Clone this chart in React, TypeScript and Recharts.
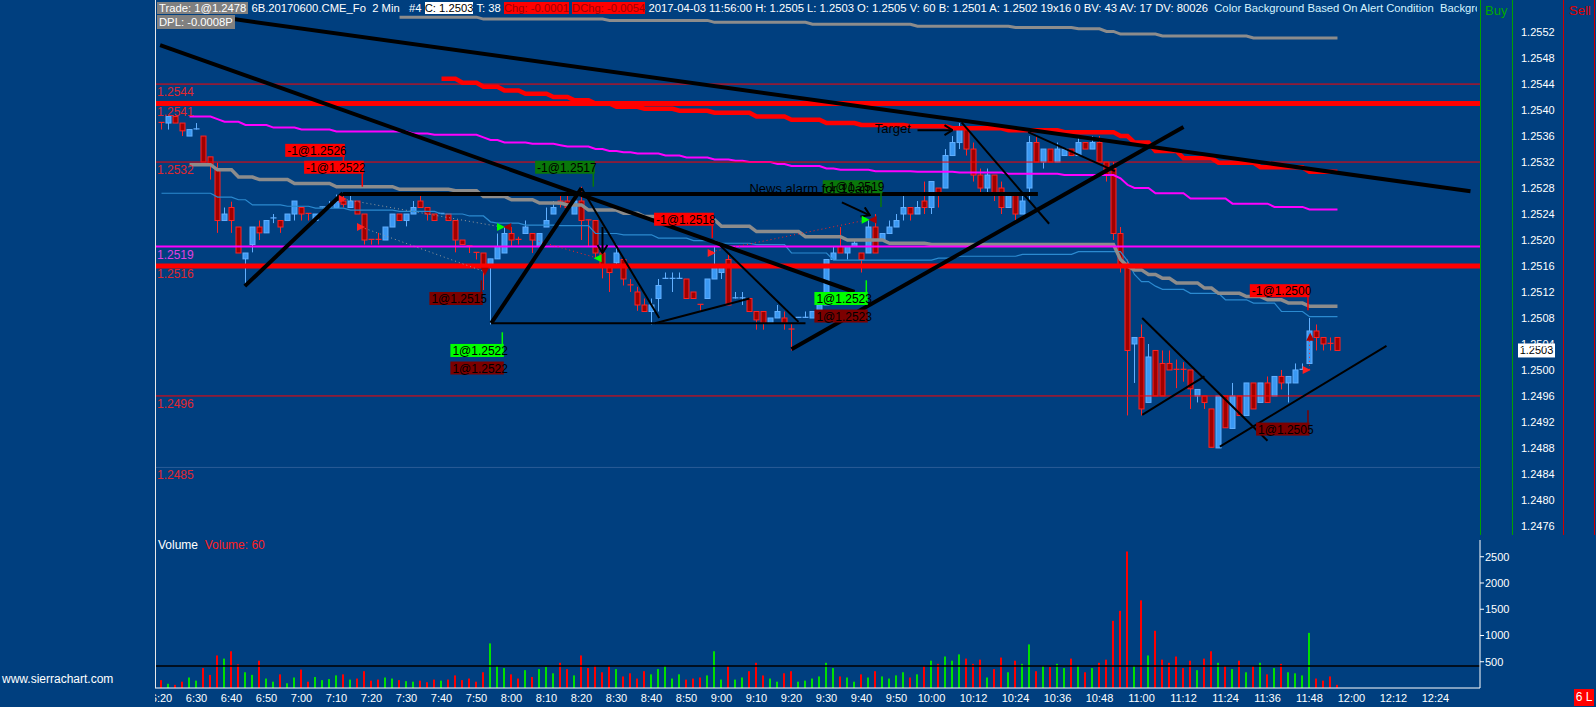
import React from "react";
import {
  Bar,
  Cell,
  ComposedChart,
  Line,
  ReferenceDot,
  ReferenceLine,
  XAxis,
  YAxis,
} from "recharts";

const BG = "#003f7f";
const FONT = '"Liberation Sans", Arial, sans-serif';

// 2 minute bars of 6B (British pound future), bar 0 = 6:20, bar 168 = 11:56
const opens = [
  1.25381, 1.2538, 1.2539, 1.2538, 1.2536, 1.2537, 1.2536, 1.25328, 1.2531, 1.2523,
  1.2525, 1.2522, 1.25171, 1.25193, 1.2522, 1.25211, 1.25233, 1.2523, 1.2523, 1.2524,
  1.2525, 1.25241, 1.2523, 1.2525, 1.2525, 1.2525, 1.2526, 1.2525, 1.2526, 1.2524,
  1.25201, 1.25201, 1.252, 1.2522, 1.2524, 1.2523, 1.2524, 1.2526, 1.2525, 1.2524,
  1.2524, 1.2524, 1.2523, 1.252, 1.25191, 1.25181, 1.2518, 1.25162, 1.25171, 1.2518,
  1.2521, 1.25201, 1.2521, 1.2521, 1.2519, 1.2522, 1.2524, 1.2526, 1.2526, 1.2524,
  1.2526, 1.25231, 1.2523, 1.2518, 1.2516, 1.25165, 1.2517, 1.25131, 1.2512, 1.251,
  1.2509, 1.2511, 1.2514, 1.2514, 1.2514, 1.2514, 1.2512, 1.25101, 1.2511, 1.2514,
  1.2515, 1.2517, 1.2511, 1.2511, 1.2511, 1.2509, 1.2509, 1.25072, 1.2508, 1.2508,
  1.25063, 1.2508, 1.2508, 1.2508, 1.2509, 1.251, 1.2517, 1.2519, 1.2518, 1.2519,
  1.2518, 1.2518, 1.2522, 1.252, 1.2521, 1.2522, 1.2524, 1.2525, 1.2524, 1.2526,
  1.2525, 1.2528, 1.2528, 1.2533, 1.2535, 1.2537, 1.2534, 1.253, 1.2528, 1.253,
  1.2528, 1.2525, 1.2527, 1.2524, 1.2528, 1.2535, 1.2532, 1.2534, 1.2532, 1.2533,
  1.2534, 1.2533, 1.2535, 1.2534, 1.2535, 1.2532, 1.2531, 1.2521, 1.2516, 1.2504,
  1.2505, 1.2495, 1.2503, 1.2501, 1.2501, 1.25001, 1.25001, 1.25, 1.2496, 1.2496,
  1.2494, 1.2488, 1.2496, 1.2491, 1.2496, 1.2493, 1.2498, 1.2495, 1.2498, 1.2496,
  1.2499, 1.2498, 1.2498, 1.25, 1.2501, 1.2506, 1.2505, 1.25041, 1.2505,
];
const highs = [
  1.25381, 1.2539, 1.2539, 1.2538, 1.2537, 1.2538, 1.2536, 1.25328, 1.25319, 1.2525,
  1.25259, 1.2522, 1.2518, 1.2522, 1.2523, 1.2523, 1.2524, 1.2523, 1.2524, 1.2526,
  1.2525, 1.25241, 1.2524, 1.25251, 1.2526, 1.2527, 1.25268, 1.25268, 1.2526, 1.2524,
  1.25201, 1.25211, 1.2522, 1.2524, 1.2524, 1.2524, 1.2526, 1.25268, 1.2525, 1.2524,
  1.25241, 1.2524, 1.2523, 1.252, 1.25191, 1.25181, 1.2518, 1.25171, 1.2521, 1.2522,
  1.2522, 1.25205, 1.2523, 1.2521, 1.2521, 1.2525, 1.2526, 1.25268, 1.2527, 1.2526,
  1.25282, 1.25231, 1.2523, 1.2522, 1.2516, 1.25193, 1.2517, 1.2514, 1.25128, 1.2511,
  1.2511, 1.2514, 1.2515, 1.2515, 1.2515, 1.2514, 1.2512, 1.25101, 1.2514, 1.2519,
  1.2516, 1.2518, 1.2512, 1.2512, 1.2511, 1.2509, 1.2509, 1.2508, 1.251, 1.2509,
  1.25072, 1.25081, 1.2509, 1.2509, 1.251, 1.2517, 1.2519, 1.2522, 1.2519, 1.252,
  1.2518, 1.2523, 1.2524, 1.2521, 1.2523, 1.2524, 1.2527, 1.2525, 1.2526, 1.2529,
  1.2529, 1.2528, 1.2534, 1.2536, 1.2538, 1.2537, 1.2535, 1.2531, 1.2531, 1.253,
  1.2529, 1.2527, 1.2527, 1.2527, 1.2536, 1.2536, 1.2534, 1.2534, 1.2535, 1.2534,
  1.2534, 1.2536, 1.2535, 1.2536, 1.2536, 1.2532, 1.2532, 1.2522, 1.2517, 1.2505,
  1.2507, 1.2504, 1.2503, 1.2503, 1.2503, 1.25016, 1.25012, 1.25, 1.2497, 1.2496,
  1.2494, 1.2496, 1.2496, 1.2498, 1.2496, 1.2498, 1.2498, 1.2498, 1.2499, 1.2499,
  1.25, 1.2499, 1.2501, 1.2501, 1.2508, 1.2507, 1.2505, 1.2505, 1.2505,
];
const lows = [
  1.2537, 1.2537, 1.2538, 1.2536, 1.2536, 1.2537, 1.2532, 1.25293, 1.25211, 1.2523,
  1.25211, 1.2518, 1.2513, 1.25181, 1.252, 1.25211, 1.25226, 1.25211, 1.2523, 1.2523,
  1.2523, 1.2523, 1.2523, 1.2525, 1.2525, 1.2525, 1.2525, 1.2525, 1.2524, 1.25193,
  1.25193, 1.25193, 1.252, 1.2522, 1.2523, 1.25221, 1.2524, 1.2525, 1.2523, 1.2523,
  1.2524, 1.2523, 1.25181, 1.25193, 1.2518, 1.2517, 1.25123, 1.2507, 1.25171, 1.2518,
  1.2519, 1.25193, 1.2521, 1.2518, 1.2519, 1.2522, 1.2524, 1.2525, 1.2525, 1.2524,
  1.252, 1.2519, 1.25172, 1.25141, 1.2512, 1.25162, 1.2513, 1.2512, 1.25091, 1.2509,
  1.2507, 1.2509, 1.2514, 1.2512, 1.2514, 1.2511, 1.2511, 1.2509, 1.2511, 1.2514,
  1.2514, 1.251, 1.2511, 1.251, 1.2509, 1.25062, 1.25062, 1.25072, 1.2508, 1.25062,
  1.2503, 1.2508, 1.2508, 1.2508, 1.2509, 1.251, 1.2517, 1.2518, 1.2517, 1.2519,
  1.2515, 1.2518, 1.2518, 1.252, 1.2521, 1.2522, 1.2523, 1.2523, 1.2524, 1.2524,
  1.2524, 1.2525, 1.2528, 1.2533, 1.2534, 1.2533, 1.2529, 1.2527, 1.2527, 1.2526,
  1.2524, 1.2525, 1.2523, 1.2524, 1.2526, 1.2532, 1.2531, 1.2532, 1.2532, 1.2533,
  1.2533, 1.2533, 1.2534, 1.2534, 1.2532, 1.2529, 1.252, 1.2515, 1.2493, 1.2498,
  1.2493, 1.2495, 1.2496, 1.2496, 1.25, 1.24972, 1.24982, 1.2494, 1.2495, 1.2494,
  1.24881, 1.2488, 1.24911, 1.2491, 1.2493, 1.2493, 1.2494, 1.2495, 1.2495, 1.2496,
  1.2497, 1.2495, 1.2498, 1.25, 1.2501, 1.2503, 1.2503, 1.2503, 1.2503,
];
const closes = [
  1.2538, 1.2539, 1.2538, 1.25368, 1.2537, 1.25371, 1.2532, 1.25315, 1.2523, 1.2524,
  1.2523, 1.2518, 1.2518, 1.2522, 1.25211, 1.2523, 1.25234, 1.2522, 1.2524, 1.2526,
  1.2524, 1.2524, 1.2524, 1.25251, 1.25251, 1.25259, 1.25255, 1.2526, 1.2524, 1.252,
  1.252, 1.252, 1.2522, 1.2524, 1.2523, 1.2524, 1.2525, 1.2525, 1.2524, 1.2523,
  1.25241, 1.2523, 1.252, 1.25193, 1.2519, 1.2518, 1.25162, 1.25171, 1.2519, 1.2521,
  1.252, 1.252, 1.2522, 1.252, 1.2521, 1.2523, 1.2525, 1.25255, 1.2525, 1.2526,
  1.2523, 1.2523, 1.2518, 1.25162, 1.2515, 1.2518, 1.2514, 1.2513, 1.251, 1.2509,
  1.251, 1.2513, 1.25141, 1.25141, 1.25141, 1.2511, 1.2511, 1.251, 1.2514, 1.2516,
  1.2516, 1.251, 1.25111, 1.25111, 1.2509, 1.25077, 1.25072, 1.2508, 1.2509, 1.25072,
  1.25062, 1.25081, 1.25081, 1.2509, 1.251, 1.2517, 1.2518, 1.2518, 1.2519, 1.25195,
  1.2517, 1.2522, 1.2518, 1.2521, 1.2522, 1.2523, 1.2525, 1.2524, 1.2525, 1.2525,
  1.2529, 1.2527, 1.2533, 1.2535, 1.2537, 1.2534, 1.253, 1.2528, 1.253, 1.2527,
  1.2525, 1.2527, 1.2524, 1.2526, 1.2535, 1.2532, 1.2534, 1.2532, 1.2534, 1.2534,
  1.2533, 1.2535, 1.2534, 1.2535, 1.2532, 1.253, 1.2521, 1.2516, 1.2503, 1.2505,
  1.2494, 1.2502, 1.2496, 1.2496, 1.25, 1.25, 1.25, 1.24971, 1.2497, 1.2495,
  1.24881, 1.2496, 1.24911, 1.2496, 1.2493, 1.2498, 1.2494, 1.2498, 1.2495, 1.2499,
  1.2498, 1.2499, 1.25, 1.25001, 1.2506, 1.2505, 1.2504, 1.2504, 1.2503,
];
const volumes = [
  150, 80, 60, 120, 200, 140, 380, 250, 620, 560,
  700, 450, 300, 250, 520, 180, 120, 260, 90, 200,
  350, 120, 210, 150, 170, 240, 260, 160, 180, 320,
  140, 160, 200, 180, 150, 130, 120, 140, 110, 160,
  140, 160, 240, 150, 180, 120, 300, 850, 420, 380,
  260, 180, 340, 210, 360, 400, 280, 480, 360, 240,
  620, 380, 430, 300, 420, 360, 220, 280, 180, 320,
  260, 360, 420, 180, 260, 160, 180, 200, 240, 700,
  160, 420, 160, 200, 320, 480, 240, 180, 120, 280,
  320, 120, 140, 180, 220, 480, 380, 220, 200, 120,
  260, 200, 320, 220, 180, 240, 300, 200, 260, 420,
  520, 460, 600, 520, 640, 560, 460, 540, 200, 360,
  580, 300, 520, 460, 830, 320, 420, 400, 460, 380,
  560, 420, 300, 380, 480, 540, 1280, 1470, 2600, 420,
  1670, 620, 1090, 540, 480, 600, 380, 520, 340, 560,
  700, 480, 420, 360, 520, 300, 420, 480, 260, 380,
  460, 300, 280, 240, 1050, 180, 140, 220, 60,
];

const grayAvgRuns: [number, number | null][] = [
  [4, null], [4, 1.25316], [3, 1.25308], [3, 1.25297], [5, 1.25293], [6, 1.25287],
  [9, 1.25282], [8, 1.25278], [4, 1.25276], [4, 1.25267], [4, 1.25262], [4, 1.25257],
  [3, 1.25254], [5, 1.25246], [3, 1.25241], [4, 1.25236], [7, 1.25231], [5, 1.25221],
  [7, 1.25213], [6, 1.25205], [6, 1.252], [6, 1.25195], [27, 1.25193], [1, 1.2517],
  [1, 1.2516], [2, 1.25154], [2, 1.25147], [2, 1.25141], [4, 1.25134], [2, 1.25126],
  [4, 1.25118], [3, 1.25113], [3, 1.25108], [3, 1.25103], [5, 1.25098],
];
const blueAvgRuns: [number, number | null][] = [
  [8, 1.25272], [3, 1.25266], [2, 1.25262], [5, 1.25254], [4, 1.25252], [5, 1.25249],
  [7, 1.25246], [6, 1.25244], [4, 1.2524], [3, 1.25237], [1, 1.25228], [4, 1.25226],
  [5, 1.25223], [5, 1.25222], [4, 1.2521], [5, 1.25208], [5, 1.25203], [4, 1.25199],
  [5, 1.25195], [5, 1.25193], [6, 1.2518], [15, 1.25169], [3, 1.25172], [9, 1.25175],
  [8, 1.25178], [7, 1.25182], [1, 1.25168], [1, 1.25147], [2, 1.25136], [1, 1.25129],
  [4, 1.25124], [5, 1.25118], [4, 1.25108], [4, 1.25103], [4, 1.2509], [5, 1.25082],
];
const magentaAvgRuns: [number, number | null][] = [
  [4, null], [4, 1.2539], [1, 1.25386], [3, 1.25382], [4, 1.25377], [4, 1.25373],
  [5, 1.2537], [11, 1.25367], [3, 1.25364], [7, 1.25362], [1, 1.25358], [2, 1.25354],
  [4, 1.2535], [4, 1.25348], [1, 1.25346], [4, 1.25344], [2, 1.2534], [2, 1.25337],
  [2, 1.25335], [4, 1.25333], [3, 1.2533], [4, 1.25327], [3, 1.25324], [2, 1.25322],
  [4, 1.2532], [2, 1.25317], [5, 1.25314], [2, 1.2531], [5, 1.25308], [6, 1.25306],
  [6, 1.25305], [7, 1.25304], [8, 1.25302], [8, 1.253], [1, 1.25295], [1, 1.25285],
  [3, 1.2528], [5, 1.25272], [6, 1.25264], [6, 1.25256], [5, 1.25251], [5, 1.25247],
];
const redAvgRuns: [number, number | null][] = [
  [40, null], [3, 1.25448], [3, 1.25442], [3, 1.25436], [3, 1.2543], [4, 1.25425],
  [3, 1.2542], [3, 1.25415], [3, 1.2541], [4, 1.25405], [5, 1.25402], [5, 1.25399],
  [6, 1.25396], [5, 1.2539], [5, 1.25385], [5, 1.2538], [7, 1.25377], [6, 1.25375],
  [8, 1.25372], [8, 1.25369], [8, 1.25366], [2, 1.2536], [3, 1.2535], [4, 1.25337],
  [5, 1.25326], [6, 1.25319], [7, 1.25312], [5, 1.25305],
];
const topGrayAvgRuns: [number, number | null][] = [
  [34, null], [12, 1.25543], [18, 1.2554], [15, 1.25538], [14, 1.25535], [15, 1.25532],
  [14, 1.25529], [9, 1.25527], [4, 1.25525], [2, 1.25521], [6, 1.25517], [13, 1.25514],
  [13, 1.25511],
];

const priceTicks = [
  1.2476, 1.248, 1.2484, 1.2488, 1.2492, 1.2496, 1.25, 1.2504, 1.2508, 1.2512,
  1.2516, 1.252, 1.2524, 1.2528, 1.2532, 1.2536, 1.254, 1.2544, 1.2548, 1.2552,
];
const volumeTicks = [500, 1000, 1500, 2000, 2500];
const timeTickLabels = [
  "6:20", "6:30", "6:40", "6:50", "7:00", "7:10", "7:20", "7:30", "7:40", "7:50",
  "8:00", "8:10", "8:20", "8:30", "8:40", "8:50", "9:00", "9:10", "9:20", "9:30",
  "9:40", "9:50", "10:00", "10:12", "10:24", "10:36", "10:48", "11:00", "11:12",
  "11:24", "11:36", "11:48", "12:00", "12:12", "12:24",
];

// horizontal price levels drawn across the pane
const levelPrices = [1.2544, 1.2541, 1.2532, 1.2519, 1.2516, 1.2496, 1.2485];
const levelKinds = ["thin", "thick", "thin", "magenta", "thick", "thin", "faint"];

// hand-drawn trend lines: [bar, price] -> [bar, price]
const trendFromBar = [-0.2, 10.3, 25.9, 11.9, 47.1, 47.1, 60, 70.5, 79.5, 90, 114.3, 123.8, 140.1, 140.1, 151.2];
const trendFromPrice = [1.255, 1.2554, 1.25271, 1.25129, 1.25072, 1.25072, 1.2528, 1.25072, 1.25195, 1.25032, 1.25381, 1.25366, 1.2508, 1.24931, 1.24882];
const trendToBar = [99, 187, 125.2, 25.9, 60, 92, 71.1, 84, 91, 146, 126.8, 136.2, 158, 149, 175];
const trendToPrice = [1.2512, 1.25275, 1.25271, 1.25272, 1.2528, 1.25072, 1.2508, 1.2511, 1.25074, 1.25374, 1.25225, 1.25306, 1.24891, 1.2499, 1.25037];
const trendHeavy = [true, true, true, true, true, false, false, false, false, true, false, false, false, false, false];

// dotted trade connectors
const tradeFromBar = [25.9, 28.5, 53.3, 78.6, 164];
const tradeFromPrice = [1.25263, 1.2522, 1.252, 1.25182, 1.25051];
const tradeToBar = [48.6, 46.2, 62.3, 100.8, 164];
const tradeToPrice = [1.2522, 1.25151, 1.25172, 1.25231, 1.25];
const tradeKinds = ["gray", "gray", "red", "red", "red"];

// order fill flags
const flagTexts = ["-1@1.2526", "-1@1.2522", "-1@1.2517", "-1@1.2518", "1@1.2515", "1@1.2522", "1@1.2522", "-1@1.2519", "1@1.2523", "1@1.2523", "-1@1.2500", "1@1.2505"];
const flagBars = [26.2, 28.9, 61.9, 78.9, 45.9, 48.9, 48.9, 103, 100.9, 100.9, 164, 164];
const flagPrices = [1.25338, 1.25312, 1.25312, 1.25232, 1.2511, 1.2503, 1.25003, 1.25282, 1.2511, 1.25083, 1.25122, 1.24909];
const flagLeaderTo: (number | null)[] = [1.25315, 1.25282, 1.25282, 1.25203, 1.25138, 1.25058, null, 1.25251, 1.25138, null, 1.25092, 1.24938];
const flagKinds = ["sell", "sell", "sellFill", "sell", "buyFill", "buy", "buyFill", "sellFill", "buy", "buyFill", "sell", "buyFill"];

// small trade markers
const markBars = [25.9, 28.5, 48.5, 49.4, 46.2, 62.3, 78.6, 100.6, 101.6, 164.1, 163.6];
const markPrices = [1.25263, 1.2522, 1.2522, 1.2522, 1.25151, 1.25172, 1.2518, 1.25231, 1.25231, 1.25051, 1.25];
const markKinds = ["sellRight", "sellRight", "buyRight", "fillLeft", "fillDown", "buyLeft", "sellRight", "buyRight", "fillLeft", "fillUp", "sellRight"];

// drawn arrows
const arrowFromBar = [108, 97.2, 63];
const arrowFromPrice = [1.25369, 1.25258, 1.2522];
const arrowToBar = [113, 101.2, 63];
const arrowToPrice = [1.25369, 1.25238, 1.2518];

const noteTexts = ["Target", "News alarm for 10am"];
const noteBars = [101.9, 84];
const notePrices = [1.25371, 1.2528];

// ---- layout
const PLOT_LEFT = 155;
const PRICE_TOP = 10;
const PRICE_H = 535;
const P_MAX = 1.25554;
const P_MIN = 1.24746;
const PX_PER_PRICE = (PRICE_H - PRICE_TOP) / (P_MAX - P_MIN);
const X_DOMAIN: [number, number] = [-0.93, 188.36];
const VOL_TOP = 530;
const VOL_H = 177;
const V_MAX = 2819;

function expand(runs: [number, number | null][]) {
  const out: (number | null)[] = [];
  runs.forEach(([n, v]) => {
    for (let k = 0; k < n; k++) out.push(v);
  });
  return out;
}

const grayAvg = expand(grayAvgRuns);
const blueAvg = expand(blueAvgRuns);
const magentaAvg = expand(magentaAvgRuns);
const redAvg = expand(redAvgRuns);
const topGrayAvg = expand(topGrayAvgRuns);

const rows = opens.map((o, i) => ({
  bar: i,
  open: o,
  high: highs[i],
  low: lows[i],
  close: closes[i],
  range: [lows[i], highs[i]],
  volume: volumes[i],
  gray: grayAvg[i],
  blue: blueAvg[i],
  magenta: magentaAvg[i],
  red: redAvg[i],
  topGray: topGrayAvg[i],
}));

const barOfTime = (t: string) => {
  const [h, m] = t.split(":").map(Number);
  return (h * 60 + m - 380) / 2;
};
const timeTicks = timeTickLabels.map(barOfTime);

const levelStyle: Record<string, { stroke: string; width: number; label: string }> = {
  thin: { stroke: "#ff0000", width: 1, label: "#e0262e" },
  thick: { stroke: "#ff0000", width: 5, label: "#e0262e" },
  magenta: { stroke: "#ff00ff", width: 2, label: "#e040e0" },
  faint: { stroke: "#2a5c98", width: 1, label: "#e0262e" },
};
const flagStyle: Record<string, { bg: string; fg: string }> = {
  sell: { bg: "#ff0000", fg: "#000000" },
  sellFill: { bg: "#0a780a", fg: "#000000" },
  buy: { bg: "#00ff00", fg: "#000000" },
  buyFill: { bg: "#7c0000", fg: "#000000" },
};

function Candle(props: any) {
  const { x, y, width, payload } = props;
  if (!payload || x == null || y == null) return null;
  const { open, high, low, close } = payload;
  const up = close > open;
  const yOf = (p: number) => y + (high - p) * PX_PER_PRICE;
  const yTop = yOf(Math.max(open, close));
  const yBot = yOf(Math.min(open, close));
  const stroke = up ? "#62b0ff" : "#ff2424";
  const fill = up ? "#3a98f2" : "#a00000";
  const cx = Math.round(x + width / 2) + 0.5;
  const left = cx - 2.5;
  return (
    <g>
      <line x1={cx} x2={cx} y1={y} y2={yOf(low)} stroke={stroke} strokeWidth={1} />
      {yBot - yTop < 1.5 ? (
        <line x1={left - 0.5} x2={left + 5.5} y1={yTop} y2={yTop} stroke={stroke} strokeWidth={1.2} />
      ) : (
        <rect x={left} y={yTop} width={5} height={yBot - yTop} fill={fill} stroke={stroke} strokeWidth={1} />
      )}
    </g>
  );
}

function Flag(props: any) {
  const { cx, cy, index } = props;
  if (cx == null || cy == null) return null;
  const text = flagTexts[index];
  const st = flagStyle[flagKinds[index]];
  const w = text.length * 6.3 + 3;
  const to = flagLeaderTo[index];
  const ly = to == null ? null : cy + (flagPrices[index] - to) * PX_PER_PRICE;
  return (
    <g>
      {ly != null && (
        <line x1={cx - 1.5} x2={cx - 1.5} y1={ly > cy ? cy + 6 : cy - 6} y2={ly} stroke={st.bg} strokeWidth={1.5} />
      )}
      <rect x={cx - w} y={cy - 6.5} width={w} height={13} fill={st.bg} />
      <text x={cx - w + 2} y={cy + 4.5} fill={st.fg} fontSize={12} fontFamily={FONT}>
        {text}
      </text>
    </g>
  );
}

function Marker(props: any) {
  const { cx, cy, index } = props;
  if (cx == null || cy == null) return null;
  const kind = markKinds[index];
  const color = kind.startsWith("sell") ? "#ff2020" : kind.startsWith("buy") ? "#00ff00" : "#a80000";
  const s = 4;
  let d = "";
  if (kind.endsWith("Right")) d = `M${cx - s},${cy - s} L${cx + s},${cy} L${cx - s},${cy + s} Z`;
  else if (kind.endsWith("Left")) d = `M${cx + s},${cy - s} L${cx - s},${cy} L${cx + s},${cy + s} Z`;
  else if (kind.endsWith("Down")) d = `M${cx - s},${cy - s} L${cx + s},${cy - s} L${cx},${cy + s} Z`;
  else d = `M${cx - s},${cy + s} L${cx + s},${cy + s} L${cx},${cy - s} Z`;
  return <path d={d} fill={color} />;
}

function Note(props: any) {
  const { cx, cy, index } = props;
  if (cx == null || cy == null) return null;
  return (
    <text x={cx} y={cy + 4.5} fill="#000000" fontSize={13} fontFamily={FONT}>
      {noteTexts[index]}
    </text>
  );
}

const PriceTick = (props: any) => {
  const { y, payload } = props;
  return (
    <text x={1521} y={y + 4} fill="#ffffff" fontSize={11} fontFamily={FONT}>
      {Number(payload.value).toFixed(4)}
    </text>
  );
};

const VolumeTick = (props: any) => {
  const { y, payload } = props;
  return (
    <text x={1485} y={y + 4} fill="#ffffff" fontSize={11} fontFamily={FONT}>
      {payload.value}
    </text>
  );
};

const TimeTick = (props: any) => {
  const { x, payload } = props;
  const label = timeTickLabels[timeTicks.indexOf(payload.value)];
  return (
    <text x={x} y={172} textAnchor="middle" fill="#ffffff" fontSize={11} fontFamily={FONT}>
      {label}
    </text>
  );
};

const LastPriceLabel = (props: any) => {
  const { viewBox } = props;
  if (!viewBox) return null;
  const x = viewBox.x + viewBox.width + 38;
  return (
    <g>
      <rect x={x} y={viewBox.y - 7} width={37} height={14} fill="#ffffff" />
      <text x={x + 18.5} y={viewBox.y + 4} textAnchor="middle" fill="#000000" fontSize={11} fontFamily={FONT}>
        1.2503
      </text>
    </g>
  );
};

const vline = (x: number, top: number, bottom: number, color: string): React.CSSProperties => ({
  position: "absolute",
  left: x,
  top,
  width: 1,
  height: bottom - top,
  background: color,
});

export default function App() {
  return (
    <div
      style={{
        position: "absolute",
        left: 0,
        top: 0,
        width: 1596,
        height: 707,
        background: BG,
        overflow: "hidden",
        fontFamily: FONT,
      }}
    >
      <div style={{ position: "absolute", left: 0, top: 0 }}>
        <ComposedChart
          width={1596}
          height={PRICE_H}
          data={rows}
          margin={{ top: PRICE_TOP, right: 5, left: PLOT_LEFT, bottom: 0 }}
        >
          <defs>
            <marker id="arrowHead" markerWidth="10" markerHeight="12" refX="9" refY="6" orient="auto" markerUnits="userSpaceOnUse">
              <path d="M1,1 L9,6 L1,11" fill="none" stroke="#000000" strokeWidth="2" />
            </marker>
          </defs>
          <XAxis dataKey="bar" type="number" domain={X_DOMAIN} allowDataOverflow hide />
          <YAxis
            orientation="right"
            type="number"
            width={111}
            domain={[P_MIN, P_MAX]}
            allowDataOverflow
            ticks={priceTicks}
            tick={<PriceTick />}
            tickLine={false}
            axisLine={false}
            interval={0}
          />
          <Bar dataKey="range" barSize={6} shape={<Candle />} isAnimationActive={false} />
          <Line dataKey="blue" type="linear" stroke="#2b8ad0" strokeWidth={1.2} dot={false} isAnimationActive={false} />
          <Line dataKey="gray" type="linear" stroke="#8c8c8c" strokeWidth={3.5} dot={false} isAnimationActive={false} />
          <Line dataKey="magenta" type="linear" stroke="#ff00ff" strokeWidth={2} dot={false} isAnimationActive={false} />
          <Line dataKey="topGray" type="linear" stroke="#8c8c8c" strokeWidth={3} dot={false} isAnimationActive={false} />
          <Line dataKey="red" type="linear" stroke="#ff0000" strokeWidth={4.5} dot={false} isAnimationActive={false} />
          {levelPrices.map((p, k) => {
            const st = levelStyle[levelKinds[k]];
            return (
              <ReferenceLine
                key={`lv${k}`}
                y={p}
                stroke={st.stroke}
                strokeWidth={st.width}
                ifOverflow="hidden"
                label={(lp: any) => (
                  <text x={lp.viewBox.x + 2} y={lp.viewBox.y + 12} fill={st.label} fontSize={12} fontFamily={FONT}>
                    {p.toFixed(4)}
                  </text>
                )}
              />
            );
          })}
          {tradeFromBar.map((b, k) => (
            <ReferenceLine
              key={`td${k}`}
              segment={[
                { x: b, y: tradeFromPrice[k] },
                { x: tradeToBar[k], y: tradeToPrice[k] },
              ]}
              stroke={tradeKinds[k] === "gray" ? "#9a9a9a" : "#ff2020"}
              strokeWidth={1}
              strokeDasharray="1 3"
              ifOverflow="hidden"
            />
          ))}
          {trendFromBar.map((b, k) => (
            <ReferenceLine
              key={`tr${k}`}
              segment={[
                { x: b, y: trendFromPrice[k] },
                { x: trendToBar[k], y: trendToPrice[k] },
              ]}
              stroke="#000000"
              strokeWidth={trendHeavy[k] ? 4 : 2}
              ifOverflow="hidden"
            />
          ))}
          {arrowFromBar.map((b, k) => (
            <ReferenceLine
              key={`ar${k}`}
              segment={[
                { x: b, y: arrowFromPrice[k] },
                { x: arrowToBar[k], y: arrowToPrice[k] },
              ]}
              stroke="#000000"
              strokeWidth={2}
              markerEnd="url(#arrowHead)"
              ifOverflow="hidden"
            />
          ))}
          {markBars.map((b, k) => (
            <ReferenceDot key={`mk${k}`} x={b} y={markPrices[k]} r={4} ifOverflow="hidden" shape={(p: any) => <Marker {...p} index={k} />} />
          ))}
          {flagBars.map((b, k) => (
            <ReferenceDot key={`fl${k}`} x={b} y={flagPrices[k]} r={4} ifOverflow="visible" shape={(p: any) => <Flag {...p} index={k} />} />
          ))}
          {noteBars.map((b, k) => (
            <ReferenceDot key={`nt${k}`} x={b} y={notePrices[k]} r={4} ifOverflow="visible" shape={(p: any) => <Note {...p} index={k} />} />
          ))}
          <ReferenceLine y={1.2503} stroke="none" label={<LastPriceLabel />} />
        </ComposedChart>
      </div>

      <div style={{ position: "absolute", left: 0, top: VOL_TOP }}>
        <ComposedChart
          width={1596}
          height={VOL_H}
          data={rows}
          margin={{ top: 10, right: 5, left: PLOT_LEFT, bottom: 0 }}
        >
          <XAxis
            dataKey="bar"
            type="number"
            domain={X_DOMAIN}
            allowDataOverflow
            ticks={timeTicks}
            interval={0}
            height={19}
            tickLine={false}
            axisLine={{ stroke: "#ffffff" }}
            tick={<TimeTick />}
          />
          <YAxis
            orientation="right"
            type="number"
            width={111}
            domain={[0, V_MAX]}
            allowDataOverflow
            ticks={volumeTicks}
            interval={0}
            tickSize={4}
            tickLine={{ stroke: "#ffffff" }}
            axisLine={{ stroke: "#ffffff" }}
            tick={<VolumeTick />}
          />
          <ReferenceLine y={420} stroke="#000000" strokeWidth={1.5} />
          <Bar dataKey="volume" barSize={2} isAnimationActive={false}>
            {rows.map((r, i) => (
              <Cell key={i} fill={r.close > r.open ? "#00e000" : "#ff0000"} />
            ))}
          </Bar>
        </ComposedChart>
      </div>

      {/* frame lines and panel decorations */}
      <div style={vline(155, 0, 688, "#e8e8e8")} />
      <div style={vline(1480, 0, 535, "#00a000")} />
      <div style={vline(1512, 0, 535, "#00a000")} />
      <div style={vline(1563, 0, 535, "#d00000")} />
      <div style={vline(1594, 0, 535, "#d00000")} />
      <div style={{ position: "absolute", left: 0, top: 688, width: 155, height: 19, background: BG }} />

      <div
        style={{
          position: "absolute",
          left: 157,
          top: 1,
          width: 1320,
          height: 14,
          overflow: "hidden",
          whiteSpace: "pre",
          fontSize: 11.25,
          lineHeight: "14px",
          color: "#ffffff",
        }}
      >
        <span style={{ background: "#808080", padding: "0 2px" }}>Trade: 1@1.2478</span>
        <span> 6B.20170600.CME_Fo  2 Min   #4 </span>
        <span style={{ background: "#ffffff", color: "#000000" }}>C: 1.2503</span>
        <span> T: 38 </span>
        <span style={{ background: "#ff0000", color: "#a00000" }}>Chg: -0.0001</span>
        <span> </span>
        <span style={{ background: "#ff0000", color: "#a00000" }}>DChg: -0.0054</span>
        <span> 2017-04-03 11:56:00 H: 1.2505 L: 1.2503 O: 1.2505 V: 60 B: 1.2501 A: 1.2502 19x16 0 BV: 43 AV: 17 DV: 80026  </span>
        <span style={{ color: "#d4f4ff" }}>Color Background Based On Alert Condition  Background</span>
      </div>
      <div
        style={{
          position: "absolute",
          left: 157,
          top: 15,
          height: 14,
          fontSize: 11.25,
          lineHeight: "14px",
          color: "#ffffff",
          background: "#808080",
          padding: "0 2px",
          whiteSpace: "pre",
        }}
      >
        DPL: -0.0008P
      </div>

      <div style={{ position: "absolute", left: 1485, top: 3, fontSize: 13, color: "#00a800" }}>Buy</div>
      <div style={{ position: "absolute", left: 1569, top: 3, fontSize: 13, color: "#e00000" }}>Sell</div>

      <div style={{ position: "absolute", left: 158, top: 538, fontSize: 12, color: "#ffffff", whiteSpace: "pre" }}>
        Volume  <span style={{ color: "#ff2020" }}>Volume: 60</span>
      </div>
      <div style={{ position: "absolute", left: 2, top: 672, fontSize: 12, color: "#ffffff" }}>www.sierrachart.com</div>
      <div
        style={{
          position: "absolute",
          left: 1574,
          top: 689,
          width: 20,
          height: 17,
          background: "#ff0000",
          color: "#ffffff",
          fontSize: 12,
          lineHeight: "17px",
          textAlign: "center",
        }}
      >
        6 L
      </div>
    </div>
  );
}
